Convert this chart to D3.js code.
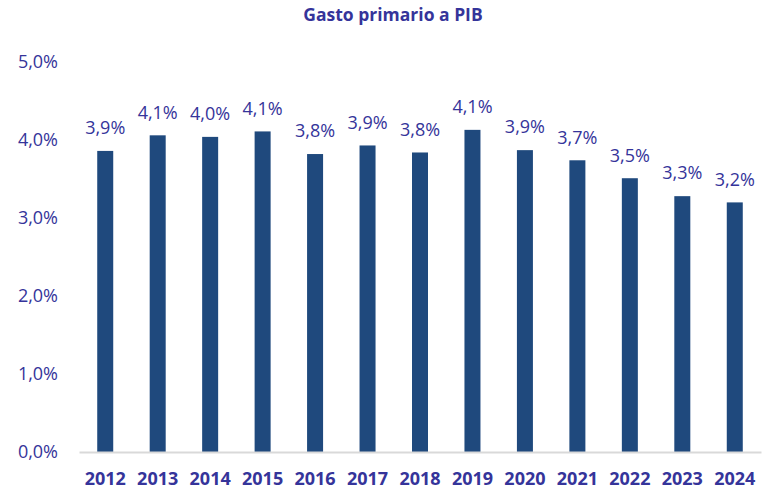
<!DOCTYPE html>
<html>
<head>
<meta charset="utf-8">
<script src="https://cdn.jsdelivr.net/npm/d3@7"></script>
<style>
  body { margin: 0; background: #fff; }
  text { font-family: "Open Sans", sans-serif; fill: #35349a; }
</style>
</head>
<body>
<div id="chart"></div>
<script>
const years = ["2012", "2013", "2014", "2015", "2016", "2017", "2018", "2019", "2020", "2021", "2022", "2023", "2024"]
const gasto = [3.86, 4.06, 4.04, 4.11, 3.82, 3.93, 3.84, 4.13, 3.87, 3.74, 3.51, 3.28, 3.20]
const yTicks = [0, 1, 2, 3, 4, 5]

const totalWidth = 763
const totalHeight = 491
const margins = { left: 79, top: 62, right: 2, bottom: 39 }
const width = totalWidth - margins.left - margins.right
const height = totalHeight - margins.top - margins.bottom

const fmt = (v) => v.toFixed(1).replace(".", ",") + "%"

const svg = d3.select("#chart")
    .append("svg")
    .attr("width", totalWidth)
    .attr("height", totalHeight)

const g = svg.append("g")
    .attr("transform", `translate(${margins.left}, ${margins.top})`)

const x = d3.scaleBand().domain(years).range([0, width]).paddingInner(0.695).paddingOuter(0.3475)
const y = d3.scaleLinear().domain([0, 5]).range([height, 0])

// titulo
svg.append("text")
    .attr("x", 393)
    .attr("y", 15)
    .attr("dy", "0.35em")
    .attr("text-anchor", "middle")
    .style("font-weight", "bold")
    .style("font-size", "17.5px")
    .text("Gasto primario a PIB")

// eje y sin linea
const yAxis = g.append("g")
    .call(d3.axisLeft(y).tickValues(yTicks).tickSize(0).tickPadding(21).tickFormat(fmt))
yAxis.select(".domain").remove()
yAxis.selectAll("text")
    .style("font-size", "18px")
    .style("font-family", "'Open Sans', sans-serif")
    .attr("fill", "#35349a")

g.selectAll("rect.bar")
    .data(gasto)
    .enter()
    .append("rect")
    .attr("class", "bar")
    .attr("x", (d, i) => x(years[i]))
    .attr("y", (d) => y(d))
    .attr("width", x.bandwidth())
    .attr("height", (d) => height - y(d))
    .attr("fill", "#1f497d")

g.selectAll("text.val")
    .data(gasto)
    .enter()
    .append("text")
    .attr("class", "val")
    .attr("x", (d, i) => x(years[i]) + x.bandwidth() / 2)
    .attr("y", (d) => y(d) - 23)
    .attr("dy", "0.35em")
    .attr("text-anchor", "middle")
    .style("font-size", "18px")
    .text((d) => fmt(d))

// eje x
const xAxis = g.append("g")
    .attr("transform", `translate(0, ${height})`)
    .call(d3.axisBottom(x).tickSize(0).tickPadding(20))
xAxis.select(".domain").attr("stroke", "#d9d9d9").attr("stroke-width", 2)
xAxis.selectAll("text")
    .style("font-size", "18px")
    .style("font-weight", "bold")
    .style("font-family", "'Open Sans', sans-serif")
    .attr("fill", "#35349a")
</script>
</body>
</html>
